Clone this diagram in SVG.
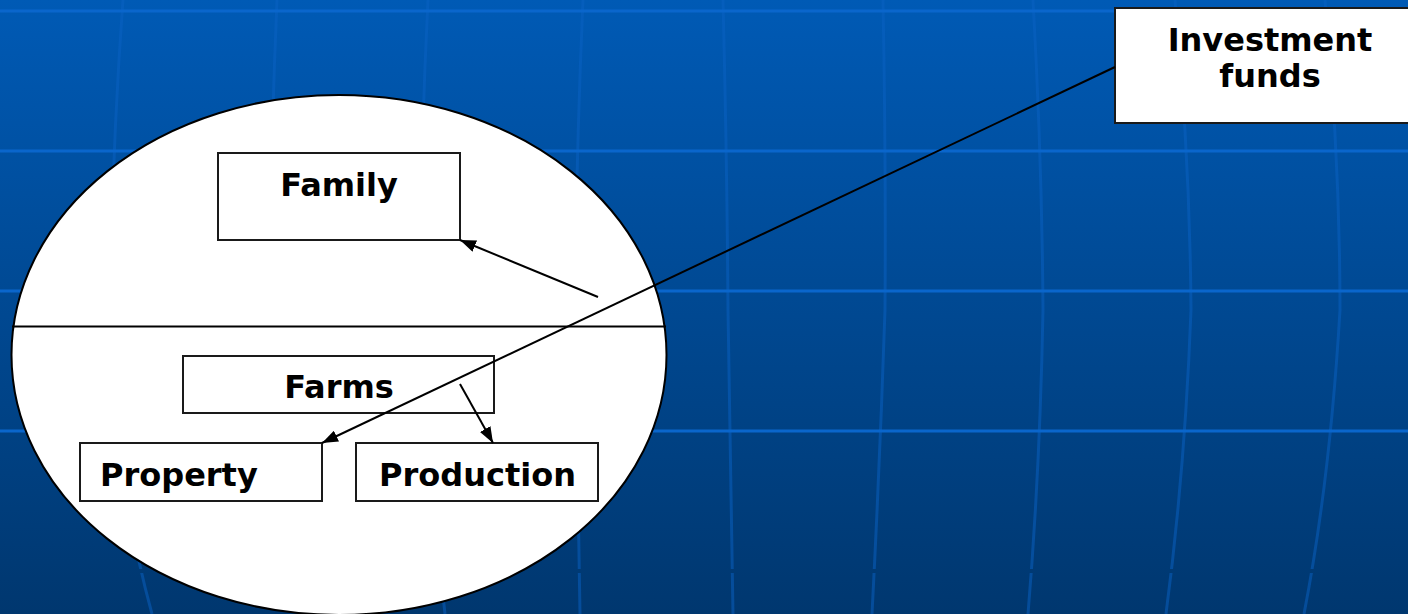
<svg xmlns="http://www.w3.org/2000/svg" width="1408" height="614" viewBox="0 0 1408 614">
<defs>
<linearGradient id="bg" x1="0" y1="0" x2="0" y2="614" gradientUnits="userSpaceOnUse">
<stop offset="0" stop-color="#005AB5"/>
<stop offset="1" stop-color="#00376F"/>
</linearGradient>
<marker id="arr" viewBox="0 0 16 12" refX="16" refY="6" markerWidth="16" markerHeight="12" markerUnits="userSpaceOnUse" orient="auto">
<path d="M0,0 L16,6 L0,12 z" fill="#000"/>
</marker>
<style>
.vl{fill:none;stroke:#0A62C4;stroke-opacity:0.5;stroke-width:3}
.hl{stroke:#0A66CC;stroke-width:3}
.box{fill:#fff;stroke:#1a1a1a;stroke-width:2}
.lbl{font-family:"DejaVu Sans",Verdana,sans-serif;font-weight:bold;font-size:32px;fill:#000}
.con{fill:none;stroke:#000;stroke-width:2}
</style>
</defs>
<g id="background">
<rect x="0" y="0" width="1408" height="614" fill="url(#bg)"/>
<path class="vl" d="M123,0 Q112,150 110,310 Q115,480 152,614"/>
<path class="vl" d="M277,0 Q270,160 270,310 Q280,480 300,614"/>
<path class="vl" d="M428,0 Q420,160 420,310 Q430,480 445,614"/>
<path class="vl" d="M583,0 Q576,160 575,310 Q578,460 580,614"/>
<path class="vl" d="M723,0 Q727,160 728,310 Q731,460 733,614"/>
<path class="vl" d="M883,0 Q886,160 885,310 Q880,460 872,614"/>
<path class="vl" d="M1033,0 Q1042,160 1043,310 Q1040,470 1028,614"/>
<path class="vl" d="M1175,0 Q1190,160 1191,310 Q1185,470 1166,614"/>
<path class="vl" d="M1325,0 Q1340,160 1340,310 Q1330,480 1304,614"/>
<line x1="0" y1="571" x2="1408" y2="571" stroke="url(#bg)" stroke-width="4"/>
<line class="hl" x1="0" y1="11" x2="1408" y2="11"/>
<line class="hl" x1="0" y1="151" x2="1408" y2="151"/>
<line class="hl" x1="0" y1="291" x2="1408" y2="291"/>
<line class="hl" x1="0" y1="431" x2="1408" y2="431"/>
</g>
<g id="ellipse">
<ellipse cx="339" cy="355" rx="327.5" ry="260" fill="#fff" stroke="#000" stroke-width="2"/>
<line x1="12" y1="326.5" x2="666" y2="326.5" stroke="#000" stroke-width="2"/>
</g>
<g id="family">
<rect class="box" x="218" y="153" width="242" height="87"/>
<text class="lbl" x="339" y="196" text-anchor="middle">Family</text>
</g>
<g id="farms">
<rect class="box" x="183" y="356" width="311" height="57"/>
<text class="lbl" x="339" y="398" text-anchor="middle">Farms</text>
</g>
<g id="property">
<rect class="box" x="80" y="443" width="242" height="58"/>
<text class="lbl" x="100" y="486">Property</text>
</g>
<g id="production">
<rect class="box" x="356" y="443" width="242" height="58"/>
<text class="lbl" x="379" y="486">Production</text>
</g>
<g id="investment">
<rect class="box" x="1115" y="8" width="305" height="115"/>
<text class="lbl" x="1270" y="51" text-anchor="middle">Investment</text>
<text class="lbl" x="1270" y="87" text-anchor="middle">funds</text>
</g>
<g id="connectors">
<line class="con" x1="598" y1="297" x2="460" y2="240" marker-end="url(#arr)"/>
<line class="con" x1="1115" y1="67" x2="322" y2="443" marker-end="url(#arr)"/>
<line class="con" x1="460" y1="384" x2="493" y2="443" marker-end="url(#arr)"/>
</g>
</svg>
